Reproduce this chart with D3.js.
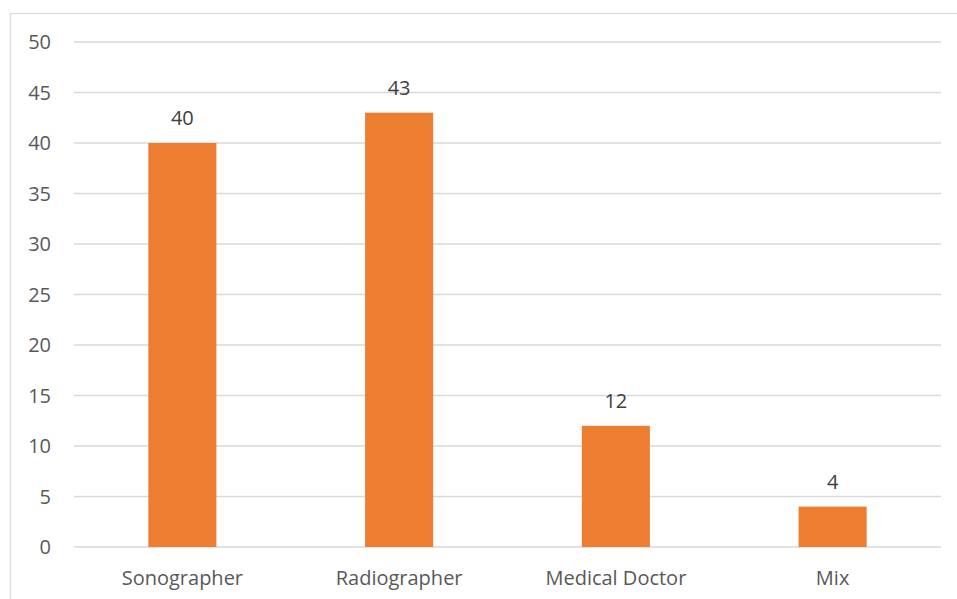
<!DOCTYPE html>
<html><head><meta charset="utf-8">
<script src="https://cdn.jsdelivr.net/npm/d3@7"></script>
<style>body{margin:0;background:#fff}svg{display:block}</style>
</head><body>
<svg id="c" width="957" height="599"></svg>
<script>
const categories = ["Sonographer", "Radiographer", "Medical Doctor", "Mix"];
const values = [40, 43, 12, 4];
const yTicks = [0, 5, 10, 15, 20, 25, 30, 35, 40, 45, 50];

const svg = d3.select("#c");
const font = "'Open Sans', 'Liberation Sans', sans-serif";
const m = {left: 74, right: 941, top: 42, bottom: 547};

// chart border
svg.append("path").attr("d", `M10.5,600 V13.5 H957`)
  .attr("fill", "none").attr("stroke", "#d9d9d9").attr("stroke-width", 1.2);

const x = d3.scaleBand().domain(categories).range([m.left, m.right]).padding(0);
const y = d3.scaleLinear().domain([0, 50]).range([m.bottom, m.top]);

// gridlines
svg.append("g").selectAll("line").data(yTicks).join("line")
  .attr("x1", m.left).attr("x2", m.right)
  .attr("y1", d => y(d)).attr("y2", d => y(d))
  .attr("stroke", "#d9d9d9").attr("stroke-width", 1.3);

// y tick labels
svg.append("g").selectAll("text").data(yTicks).join("text")
  .attr("x", 51).attr("y", d => y(d)).attr("dy", "0.35em")
  .attr("text-anchor", "end").attr("font-family", font).attr("font-size", 20)
  .attr("fill", "#595959").text(d => d);

const bw = x.bandwidth() * 0.314;
svg.append("g").selectAll("rect").data(values).join("rect")
  .attr("x", (d, i) => x(categories[i]) + x.bandwidth() / 2 - bw / 2)
  .attr("width", bw)
  .attr("y", d => y(d)).attr("height", d => y(0) - y(d))
  .attr("fill", "#ED7D31");

// data labels
svg.append("g").selectAll("text").data(values).join("text")
  .attr("x", (d, i) => x(categories[i]) + x.bandwidth() / 2)
  .attr("y", d => y(d) - 25).attr("dy", "0.35em")
  .attr("text-anchor", "middle").attr("font-family", font).attr("font-size", 20)
  .attr("fill", "#404040").text(d => d);

// category labels
svg.append("g").selectAll("text").data(categories).join("text")
  .attr("x", d => x(d) + x.bandwidth() / 2)
  .attr("y", 578).attr("dy", "0.35em")
  .attr("text-anchor", "middle").attr("font-family", font).attr("font-size", 20)
  .attr("fill", "#595959").text(d => d);
</script>
</body></html>
